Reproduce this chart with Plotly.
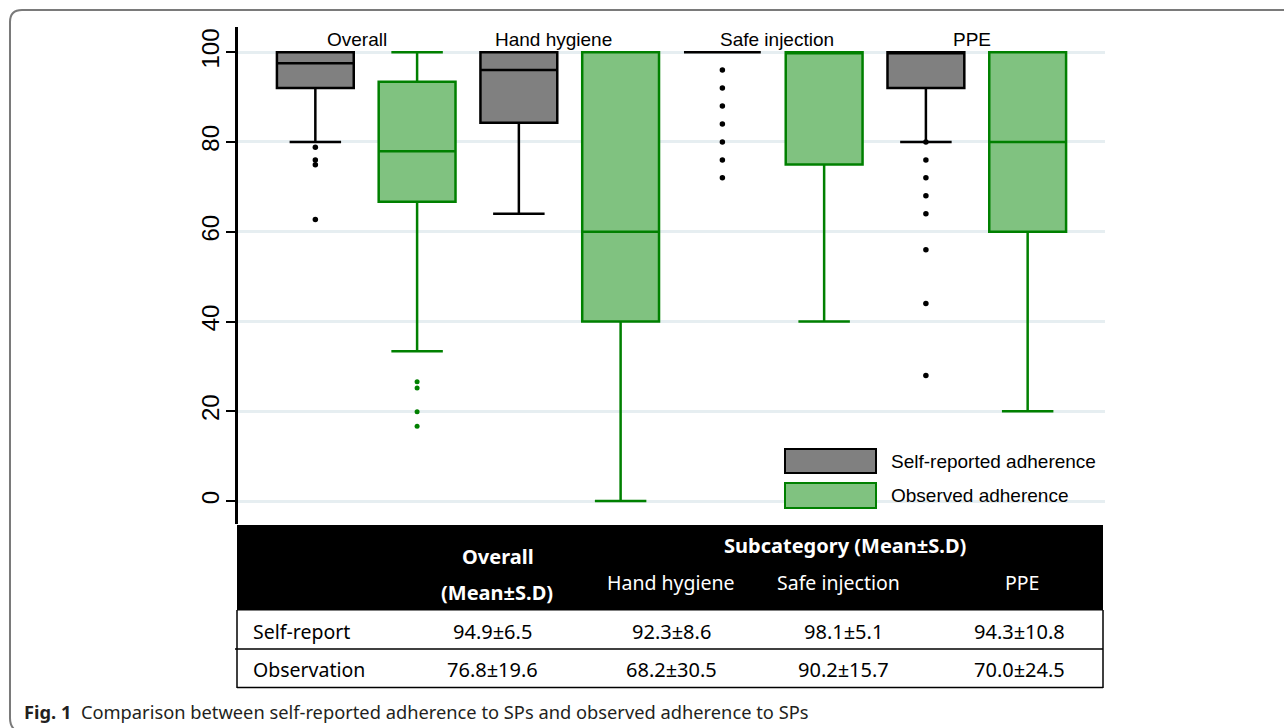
import plotly.graph_objects as go

# ---------------- data ----------------
categories = ["Overall", "Hand hygiene", "Safe injection", "PPE"]
series_names = ["Self-reported adherence", "Observed adherence"]

self_q1 = [92.0, 84.3, 100, 92.0]
self_median = [97.5, 96.0, 100, 100]
self_q3 = [100, 100, 100, 100]
self_lower = [80, 64, 100, 80]
self_upper = [100, 100, 100, 100]
self_outliers = [[78.8, 76.0, 74.9, 62.7], [], [96, 92, 88, 84, 80, 76, 72],
                 [80, 76, 72, 68, 64, 56, 44, 28]]

obs_q1 = [66.7, 40, 75, 60]
obs_median = [77.9, 60, 100, 80]
obs_q3 = [93.4, 100, 100, 100]
obs_lower = [33.4, 0, 40, 20]
obs_upper = [100, 100, 100, 100]
obs_outliers = [[26.6, 25.2, 19.9, 16.7], [], [], []]

y_ticks = [0, 20, 40, 60, 80, 100]

table_row_labels = ["Self-report", "Observation"]
table_overall_header = ["Overall", "(Mean±S.D)"]
table_sub_header = "Subcategory (Mean±S.D)"
table_sub_cols = ["Hand hygiene", "Safe injection", "PPE"]
self_mean_sd = ["94.9±6.5", "92.3±8.6", "98.1±5.1", "94.3±10.8"]
obs_mean_sd = ["76.8±19.6", "68.2±30.5", "90.2±15.7", "70.0±24.5"]

caption_bold = "Fig. 1"
caption_text = "Comparison between self-reported adherence to SPs and observed adherence to SPs"

# ---------------- styling ----------------
W, H = 1284, 728
GRAY_FILL, GRAY_LINE = "#808080", "#000000"
GREEN_FILL, GREEN_LINE = "#80c280", "#008000"
AX_FONT = "Liberation Sans, Arial, sans-serif"
TB_FONT = "Noto Sans, Open Sans, sans-serif"
CAP_FONT = "Noto Sans, Open Sans, sans-serif"
cat_label_shift = [-9, -16, 4, -5]


def px(x):
    return x / W


def py(y):
    return 1 - y / H


def note(x, y, text, font, xanchor="center"):
    return dict(x=px(x), y=py(y), xref="paper", yref="paper", text=text,
                showarrow=False, xanchor=xanchor, yanchor="middle", font=font)


self_x = [2 * i for i in range(len(categories))]
obs_x = [2 * i + 1 for i in range(len(categories))]

fig = go.Figure()

fig.add_trace(go.Box(
    x=self_x, q1=self_q1, median=self_median, q3=self_q3,
    lowerfence=self_lower, upperfence=self_upper,
    name=series_names[0], width=0.755, whiskerwidth=0.67, boxpoints=False,
    fillcolor=GRAY_FILL, line=dict(color=GRAY_LINE, width=2.5), showlegend=False,
    hoverinfo="skip",
))
fig.add_trace(go.Box(
    x=obs_x, q1=obs_q1, median=obs_median, q3=obs_q3,
    lowerfence=obs_lower, upperfence=obs_upper,
    name=series_names[1], width=0.755, whiskerwidth=0.67, boxpoints=False,
    fillcolor=GREEN_FILL, line=dict(color=GREEN_LINE, width=2.5), showlegend=False,
    hoverinfo="skip",
))

sx, sy = [], []
for xi, outs in zip(self_x, self_outliers):
    sx += [xi] * len(outs)
    sy += outs
fig.add_trace(go.Scatter(x=sx, y=sy, mode="markers", showlegend=False, hoverinfo="skip",
                         marker=dict(color="black", size=5.5)))
ox, oy = [], []
for xi, outs in zip(obs_x, obs_outliers):
    ox += [xi] * len(outs)
    oy += outs
fig.add_trace(go.Scatter(x=ox, y=oy, mode="markers", showlegend=False, hoverinfo="skip",
                         marker=dict(color=GREEN_LINE, size=5)))

annotations = []
shapes = []

# category labels above the boxes
for i, c in enumerate(categories):
    annotations.append(dict(x=2 * i + 0.5, y=102.9, xref="x", yref="y", text=c,
                            xshift=cat_label_shift[i],
                            showarrow=False, font=dict(family=AX_FONT, size=19, color="black"),
                            xanchor="center", yanchor="middle"))

# legend
leg = [(449, 473, GRAY_FILL, GRAY_LINE, series_names[0]),
       (483, 508, GREEN_FILL, GREEN_LINE, series_names[1])]
for y0, y1, fc, lc, name in leg:
    shapes.append(dict(type="rect", xref="paper", yref="paper",
                       x0=px(785), x1=px(876), y0=py(y0), y1=py(y1),
                       fillcolor=fc, line=dict(color=lc, width=2)))
    annotations.append(note(889, (y0 + y1) / 2, name,
                            dict(family=AX_FONT, size=19, color="black"), xanchor="left"))

# ---------------- table ----------------
T_L, T_R = 237, 1103
shapes.append(dict(type="rect", xref="paper", yref="paper", x0=px(T_L), x1=px(T_R),
                   y0=py(525), y1=py(610.5), fillcolor="black", line=dict(width=0), layer="above"))
for (x0, y0, x1, y1) in [(T_L, 610, T_L, 688), (T_R, 610, T_R, 688),
                         (T_L - 2, 649, T_R, 649), (T_L, 687.5, T_R, 687.5)]:
    shapes.append(dict(type="line", xref="paper", yref="paper", x0=px(x0), x1=px(x1),
                       y0=py(y0), y1=py(y1), line=dict(color="black", width=1.5)))

col_x = [492, 671, 843, 1019]
wbf = dict(family=TB_FONT, size=20, color="white")
wf = dict(family=TB_FONT, size=19.5, color="white")
annotations.append(note(498, 556, "<b>%s</b>" % table_overall_header[0], wbf))
annotations.append(note(497, 592, "<b>%s</b>" % table_overall_header[1], wbf))
annotations.append(note(845, 545, "<b>%s</b>" % table_sub_header, wbf))
for cx, lab in zip([671, 838, 1022], table_sub_cols):
    annotations.append(note(cx, 582, lab, wf))

bf = dict(family=TB_FONT, size=20, color="black")
rf = dict(family=TB_FONT, size=19.5, color="black")
for ry, lab, vals in zip([631, 669], table_row_labels, [self_mean_sd, obs_mean_sd]):
    annotations.append(note(251, ry, lab, rf, xanchor="left"))
    for cx, v in zip(col_x, vals):
        annotations.append(note(cx, ry, v, bf))

# caption
annotations.append(note(22, 711, "<b>%s</b>&nbsp;&nbsp;%s" % (caption_bold, caption_text),
                        dict(family=CAP_FONT, size=18.3, color="#231f20"), xanchor="left"))

# outer rounded frame
shapes.append(dict(type="path", xref="paper", yref="paper",
                   path="M %f,%f L %f,%f Q %f,%f %f,%f L %f,%f Q %f,%f %f,%f" % (
                       px(1300), py(10), px(22), py(10), px(10), py(10), px(10), py(22),
                       px(10), py(718), px(10), py(728), px(18), py(732)),
                   line=dict(color="#7a7a7a", width=2)))

fig.update_layout(
    width=W, height=H, template="none",
    paper_bgcolor="white", plot_bgcolor="white",
    margin=dict(l=0, r=0, t=0, b=0),
    showlegend=False,
    xaxis=dict(domain=[px(238), px(1105)], range=[-0.76, 7.76], showticklabels=False,
               showgrid=False, zeroline=False, showline=False, ticks="", automargin=False),
    yaxis=dict(domain=[py(524), py(27)], range=[-5.1, 105.6], tickvals=y_ticks,
               tickangle=-90, ticks="outside", ticklen=9, tickwidth=2, tickcolor="black",
               ticklabelstandoff=-2,
               showline=True, linewidth=2.5, linecolor="black",
               showgrid=True, gridcolor="#e6eef1", gridwidth=2.5, zeroline=False,
               tickfont=dict(family=AX_FONT, size=24, color="black"), automargin=False),
    annotations=annotations, shapes=shapes,
)

fig.write_html("out.html", config={"displayModeBar": False},
               post_script="document.body.style.margin='0';document.body.style.overflow='hidden';")
